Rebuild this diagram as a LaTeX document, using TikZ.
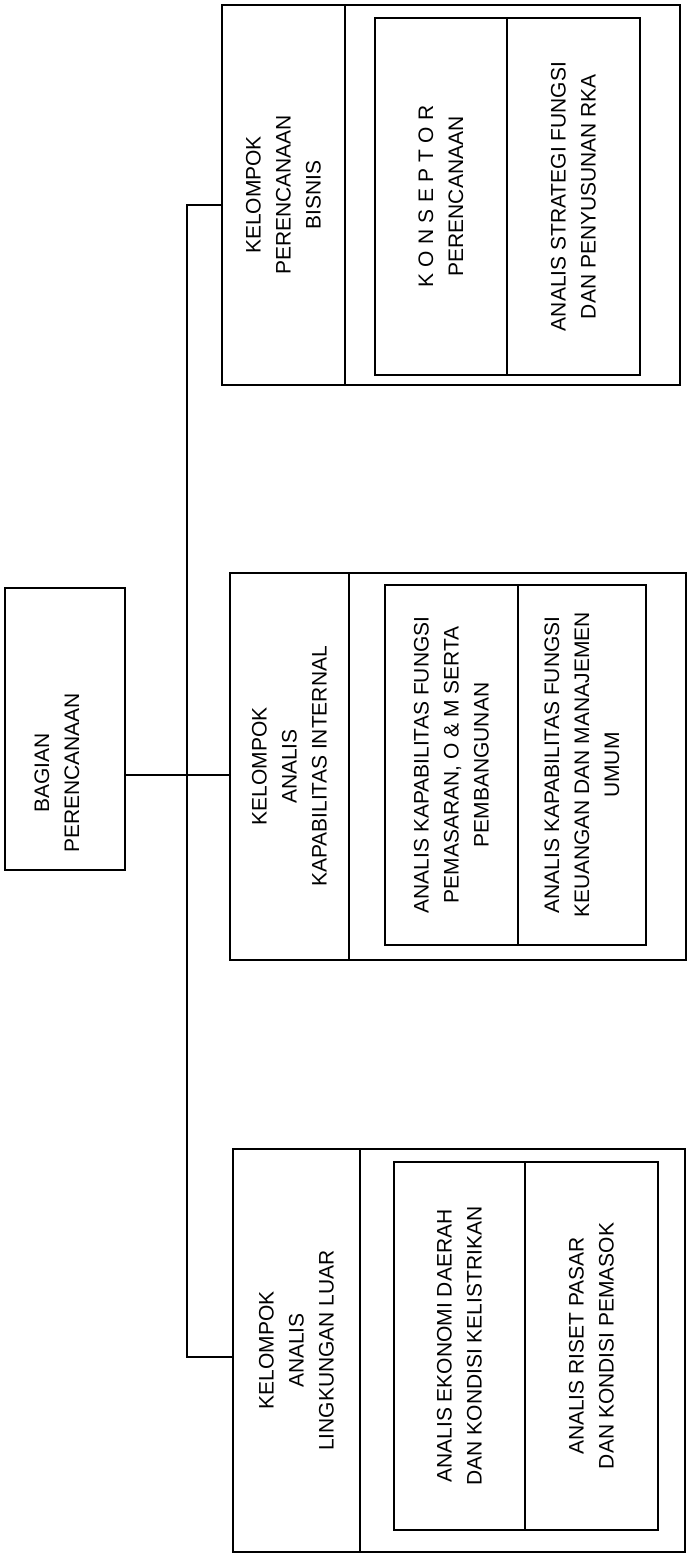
\documentclass[tikz,border=0pt]{standalone}
\usepackage{fontspec}
\setmainfont{Liberation Sans}
\usepackage{tikz}
\usetikzlibrary{positioning}

\begin{document}
\begin{tikzpicture}[x=0.5pt, y=-0.5pt, line width=0.9pt,
  every node/.style={font=\fontsize{10.5}{15}\selectfont, align=center},
  cell/.style={draw, rotate=90, inner sep=0pt}]
\useasboundingbox (0,0) rectangle (691,1559);

% kepala
\node[draw, minimum width=60pt, minimum height=141pt] (bagian) at (65,729) {};
\node[rotate=90] (bagiantxt) at (57,773) {BAGIAN\\PERENCANAAN};

% kelompok perencanaan bisnis
\node[draw, minimum width=229pt, minimum height=190pt] (bisnis) at (451,195) {};
\node[cell, minimum width=190pt, minimum height=61.5pt] (bisnishead) at (283.5,195) {KELOMPOK\\PERENCANAAN\\BISNIS};
\node[cell, minimum width=178.5pt, minimum height=66pt] (konseptor) at (441,196.5) {{\addfontfeature{LetterSpace=30}KONSEPTOR}\\PERENCANAAN};
\node[cell, minimum width=178.5pt, minimum height=66.5pt] (strategi) at (573.5,196.5) {ANALIS STRATEGI FUNGSI\\DAN PENYUSUNAN RKA};

% kelompok analis kapabilitas internal
\node[draw, minimum width=228pt, minimum height=193.5pt] (kapabilitas) at (458,766.5) {};
\node[cell, minimum width=193.5pt, minimum height=59.5pt] (kapabhead) at (289.5,766.5) {KELOMPOK\\ANALIS\\KAPABILITAS INTERNAL};
\node[cell, minimum width=180pt, minimum height=66.5pt] (pemasaran) at (451.5,765) {ANALIS KAPABILITAS FUNGSI\\PEMASARAN, O \& M SERTA\\PEMBANGUNAN};
\node[cell, minimum width=180pt, minimum height=64pt] (keuangan) at (582,765) {ANALIS KAPABILITAS FUNGSI\\KEUANGAN DAN MANAJEMEN\\UMUM};

% kelompok analis lingkungan luar
\node[draw, minimum width=226pt, minimum height=201.5pt] (lingkungan) at (459,1350.5) {};
\node[cell, minimum width=201.5pt, minimum height=63.5pt] (lingkhead) at (296.5,1350.5) {KELOMPOK\\ANALIS\\LINGKUNGAN LUAR};
\node[cell, minimum width=184pt, minimum height=65.5pt] (ekonomi) at (459.5,1346) {ANALIS EKONOMI DAERAH\\DAN KONDISI KELISTRIKAN};
\node[cell, minimum width=184pt, minimum height=66.5pt] (riset) at (591.5,1346) {ANALIS RISET PASAR\\DAN KONDISI PEMASOK};

% garis
\coordinate (jct) at (187,775);
\coordinate (bustop) at (187,205);
\coordinate (busbot) at (187,1357);
\draw[line width=0.7pt] (bagian.east |- jct) -- (jct -| kapabilitas.west);
\draw[line width=0.7pt] (bustop -| bisnis.west) -- (bustop) -- (busbot) -- (busbot -| lingkungan.west);
\end{tikzpicture}
\end{document}
